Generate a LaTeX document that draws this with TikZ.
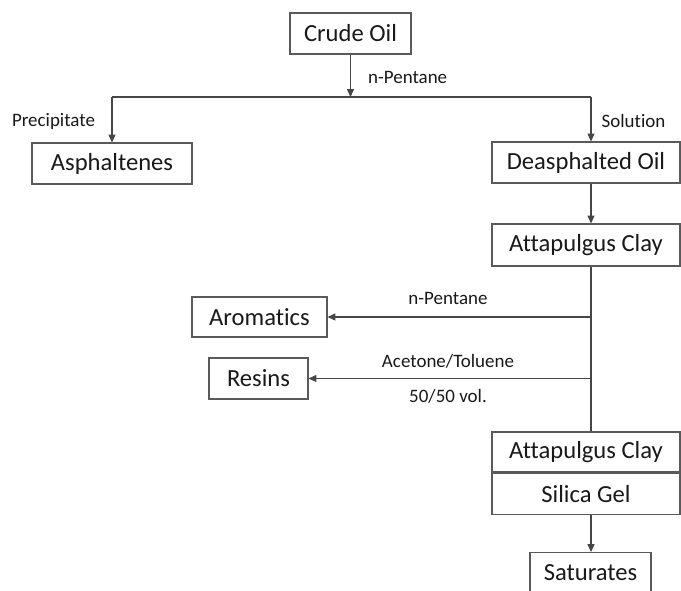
\documentclass[tikz,border=0pt]{standalone}
\usepackage{fontspec}
\setmainfont{Carlito}[Ligatures={NoCommon}]
\usetikzlibrary{arrows.meta,positioning}
\definecolor{linegray}{RGB}{70,70,70}
\definecolor{boxgray}{RGB}{90,90,90}
\definecolor{inkgray}{RGB}{25,25,25}

\begin{document}
\begin{tikzpicture}[>={Triangle[length=4.5pt,width=4pt]},
    box/.style={rectangle, draw=boxgray, line width=0.6pt, fill=white, minimum height=0.82cm, inner sep=2pt, text=inkgray, font=\fontsize{14}{17}\selectfont},
    lbl/.style={text=inkgray, inner sep=1pt, font=\fontsize{10.8}{13}\selectfont},
    arrow/.style={->, line width=0.6pt, linegray},
    link/.style={line width=0.6pt, linegray}]

    \useasboundingbox (0,0) rectangle (13.62,-11.8);

    % Separation with n-pentane
    \node[box, minimum width=2.42cm] (crude) at (7.01,-0.67) {Crude Oil};
    \coordinate (split) at (7.01,-1.94);
    \coordinate (left) at (2.24,-1.94);
    \coordinate (right) at (11.82,-1.94);
    \node[lbl, anchor=west] (pent1) at (7.32,-1.54) {n-Pentane};

    \node[box, minimum width=3.2cm] (asph) at (2.24,-3.27) {Asphaltenes};
    \node[box, minimum width=3.76cm] (deoil) at (11.72,-3.25) {Deasphalted Oil};
    \node[lbl] (precip) at (1.07,-2.42) {Precipitate};
    \node[lbl] (soln) at (12.67,-2.42) {Solution};

    \draw[arrow] (crude) -- (split);
    \draw[link] (left) -- (right);
    \draw[arrow] (left) -- (asph);
    \draw[arrow] (right) -- (right |- deoil.north);

    % Clay column
    \node[box, minimum width=3.76cm, minimum height=0.84cm] (clay1) at (11.72,-4.90) {Attapulgus Clay};
    \node[box, minimum width=3.76cm, minimum height=0.80cm] (clay2) at (11.72,-9.04) {Attapulgus Clay};
    \node[box, minimum width=3.76cm, below=0pt of clay2] (silica) {Silica Gel};
    \node[box, minimum width=2.42cm] (sat) at (11.81,-11.46) {Saturates};

    \draw[arrow] (deoil.south -| right) -- (clay1.north -| right);
    \draw[link] (clay1.south -| right) -- (clay2.north -| right);
    \draw[arrow] (silica.south -| right) -- (sat.north -| right);

    % Eluted fractions
    \node[box, minimum width=2.7cm, minimum height=0.8cm] (arom) at (5.19,-6.34) {Aromatics};
    \node[box, minimum width=1.98cm] (resins) at (5.17,-7.57) {Resins};
    \coordinate (tap1) at (11.82,-6.34);
    \coordinate (tap2) at (11.82,-7.57);

    \draw[arrow] (tap1) -- (arom);
    \draw[arrow] (tap2) -- (resins);
    \node[lbl] (pent2) at (8.96,-5.96) {n-Pentane};
    \node[lbl] (aceto) at (8.96,-7.22) {Acetone/Toluene};
    \node[lbl] (ratio) at (8.96,-7.92) {50/50 vol.};

\end{tikzpicture}
\end{document}
